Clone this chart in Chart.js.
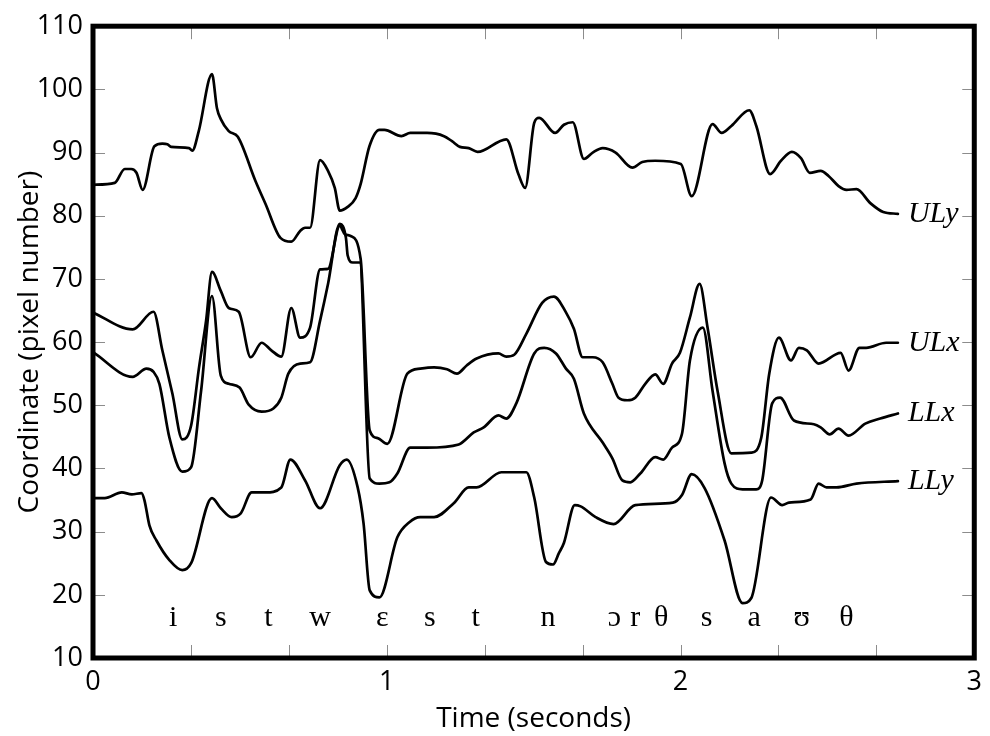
<!DOCTYPE html>
<html>
<head>
<meta charset="utf-8">
<script src="https://cdn.jsdelivr.net/npm/chart.js@4.4.1/dist/chart.umd.min.js"></script>
<style>
  html, body { margin: 0; padding: 0; background: #fff; }
  canvas { display: block; }
</style>
</head>
<body>
<canvas id="c" width="990" height="736"></canvas>
<script>
// Tongue/lip tracking traces: time (s) and coordinate (pixel number) for each articulator.
const ulyT = [0, 0.074, 0.108, 0.13, 0.148, 0.169, 0.209, 0.236, 0.253, 0.266, 0.327, 0.338, 0.36, 0.405, 0.422, 0.435, 0.462, 0.493, 0.553, 0.587, 0.638, 0.675, 0.705, 0.722, 0.739, 0.773, 0.8, 0.823, 0.84, 0.867, 0.894, 0.911, 0.941, 0.975, 0.992, 1.05, 1.08, 1.137, 1.195, 1.222, 1.249, 1.279, 1.309, 1.407, 1.448, 1.471, 1.502, 1.519, 1.573, 1.603, 1.633, 1.671, 1.701, 1.735, 1.779, 1.836, 1.87, 1.914, 2.001, 2.038, 2.109, 2.14, 2.173, 2.234, 2.258, 2.305, 2.342, 2.379, 2.41, 2.44, 2.477, 2.504, 2.538, 2.565, 2.599, 2.646, 2.69, 2.74];
const ulyV = [84.9, 85.2, 87.4, 87.4, 86.8, 84.1, 91.0, 91.4, 91.3, 90.9, 90.7, 90.3, 93.4, 102.4, 97.0, 95.3, 93.4, 92.5, 85.5, 81.9, 76.5, 75.9, 77.6, 78.1, 78.1, 88.8, 87.1, 84.4, 80.8, 81.4, 82.8, 85.0, 91.0, 93.6, 93.6, 92.6, 93.1, 93.1, 92.6, 91.8, 90.9, 90.7, 90.1, 92.1, 86.6, 84.4, 94.7, 95.5, 93.1, 94.4, 94.8, 89.0, 90.0, 90.7, 90.0, 87.6, 88.5, 88.7, 88.2, 83.1, 94.5, 93.1, 94.2, 96.7, 94.2, 86.6, 88.7, 90.1, 89.1, 86.8, 87.1, 86.3, 84.7, 84.1, 84.2, 82.0, 80.6, 80.3];

const ulxT = [0, 0.135, 0.206, 0.236, 0.27, 0.304, 0.334, 0.361, 0.385, 0.405, 0.435, 0.462, 0.496, 0.537, 0.574, 0.607, 0.641, 0.675, 0.705, 0.739, 0.773, 0.8, 0.84, 0.857, 0.877, 0.911, 0.942, 0.969, 1.002, 1.07, 1.114, 1.161, 1.205, 1.239, 1.272, 1.306, 1.38, 1.407, 1.434, 1.475, 1.529, 1.569, 1.61, 1.637, 1.667, 1.701, 1.735, 1.768, 1.789, 1.819, 1.846, 1.88, 1.914, 1.941, 1.971, 1.998, 2.032, 2.065, 2.092, 2.126, 2.173, 2.241, 2.275, 2.302, 2.335, 2.376, 2.403, 2.43, 2.47, 2.545, 2.572, 2.609, 2.632, 2.7, 2.74];
const ulxV = [64.7, 62.0, 64.8, 58.7, 51.9, 44.6, 46.8, 56.0, 63.4, 71.1, 68.1, 65.4, 64.8, 57.6, 59.9, 58.7, 57.7, 65.4, 60.7, 62.3, 71.5, 71.6, 78.4, 77.1, 76.8, 73.2, 46.0, 44.8, 43.9, 55.0, 55.8, 56.0, 55.7, 55.0, 56.3, 57.4, 58.2, 57.7, 58.0, 61.3, 66.2, 67.2, 64.7, 62.1, 57.6, 57.6, 56.8, 53.4, 51.2, 50.8, 51.2, 53.4, 54.9, 53.4, 56.6, 58.3, 63.9, 69.2, 62.3, 52.3, 42.4, 42.5, 44.9, 55.0, 60.7, 57.1, 59.1, 58.7, 56.6, 58.3, 55.5, 59.1, 59.1, 59.9, 59.9];

const llxT = [0, 0.135, 0.182, 0.206, 0.226, 0.26, 0.304, 0.334, 0.368, 0.405, 0.435, 0.462, 0.499, 0.53, 0.574, 0.614, 0.641, 0.665, 0.705, 0.739, 0.773, 0.8, 0.84, 0.861, 0.867, 0.884, 0.908, 0.942, 0.975, 1.009, 1.036, 1.08, 1.137, 1.245, 1.296, 1.33, 1.38, 1.407, 1.441, 1.502, 1.536, 1.576, 1.61, 1.637, 1.671, 1.735, 1.768, 1.802, 1.829, 1.863, 1.914, 1.941, 1.971, 2.005, 2.032, 2.076, 2.109, 2.15, 2.173, 2.211, 2.258, 2.278, 2.312, 2.339, 2.386, 2.454, 2.477, 2.508, 2.538, 2.572, 2.629, 2.68, 2.74];
const llxV = [58.4, 54.5, 55.8, 55.3, 53.4, 44.9, 39.5, 40.2, 52.3, 67.3, 54.7, 53.4, 52.8, 50.1, 49.0, 49.5, 51.2, 55.0, 56.6, 56.8, 63.4, 69.2, 78.7, 76.5, 73.7, 72.6, 72.6, 38.4, 37.6, 37.8, 39.2, 43.3, 43.3, 43.8, 45.7, 46.5, 48.4, 47.9, 50.3, 58.2, 59.1, 58.2, 55.8, 54.2, 48.7, 44.1, 41.6, 38.1, 37.8, 39.2, 41.8, 41.4, 43.3, 45.5, 57.1, 62.3, 52.3, 40.8, 37.6, 36.7, 36.7, 38.1, 50.3, 51.2, 47.6, 47.0, 46.5, 45.4, 46.3, 45.2, 47.1, 47.9, 48.7];

const llyT = [0, 0.04, 0.098, 0.132, 0.165, 0.175, 0.192, 0.216, 0.26, 0.304, 0.334, 0.405, 0.435, 0.472, 0.503, 0.54, 0.587, 0.641, 0.672, 0.722, 0.773, 0.84, 0.864, 0.901, 0.921, 0.942, 0.975, 1.036, 1.077, 1.114, 1.161, 1.228, 1.279, 1.306, 1.39, 1.475, 1.502, 1.542, 1.566, 1.586, 1.603, 1.64, 1.66, 1.711, 1.772, 1.846, 1.974, 2.005, 2.038, 2.082, 2.15, 2.211, 2.241, 2.308, 2.346, 2.369, 2.443, 2.47, 2.497, 2.531, 2.599, 2.74];
const llyV = [35.3, 35.3, 36.2, 35.9, 36.1, 35.0, 31.0, 28.6, 25.5, 23.9, 25.0, 35.3, 33.7, 32.3, 32.9, 36.2, 36.2, 37.0, 41.4, 38.1, 33.7, 40.5, 41.4, 37.0, 31.3, 20.7, 19.6, 29.1, 31.5, 32.3, 32.3, 34.5, 37.0, 37.0, 39.4, 39.4, 35.4, 25.2, 24.8, 26.6, 28.2, 34.2, 34.0, 32.3, 31.2, 34.2, 34.6, 35.8, 39.1, 36.9, 28.6, 18.7, 19.5, 35.4, 34.2, 34.6, 35.1, 37.6, 37.0, 37.0, 37.6, 38.0];

const seriesNames = ['ULy', 'ULx', 'LLx', 'LLy'];

// Phonetic transcription along the time axis
const phonemes = ['i', 's', 't', 'w', 'ɛ', 's', 't', 'n', 'ɔ', 'r', 'θ', 's', 'a', 'ʊ', 'θ'];
const phonemeTimes = [0.273, 0.435, 0.597, 0.773, 0.985, 1.147, 1.303, 1.549, 1.775, 1.846, 1.934, 2.089, 2.251, 2.413, 2.565];

const xMin = 0, xMax = 3, xStep = 1, xMinorStep = 1 / 3;
const yMin = 10, yMax = 110, yStep = 10;
const phonemeRow = 15; // baseline of the transcription row, in axis units

const pairs = (t, v) => t.map((x, i) => ({ x, y: v[i] }));
const traces = [pairs(ulyT, ulyV), pairs(ulxT, ulxV), pairs(llxT, llxV), pairs(llyT, llyV)];

const SANS = "'Open Sans', 'DejaVu Sans', sans-serif";
const SERIF = "'Liberation Serif', 'DejaVu Serif', serif";

const framePlugin = {
  id: 'frameAndLabels',
  afterDatasetsDraw(chart) {
    const { ctx, chartArea: a, scales: { x, y } } = chart;
    ctx.save();
    const seg = (x1, y1, x2, y2) => { ctx.beginPath(); ctx.moveTo(x1, y1); ctx.lineTo(x2, y2); ctx.stroke(); };

    // inner tick marks
    ctx.strokeStyle = '#8c8c8c';
    ctx.lineWidth = 1;
    for (let v = yMin; v <= yMax; v += yStep) {
      const py = Math.round(y.getPixelForValue(v)) + 0.5;
      seg(a.left, py, a.left + 12, py);
      seg(a.right - 12, py, a.right, py);
    }
    for (let k = 1; k * xMinorStep < xMax - 1e-6; k++) {
      const px = Math.round(x.getPixelForValue(k * xMinorStep)) + 0.5;
      seg(px, a.top, px, a.top + 13);
      seg(px, a.bottom - 13, px, a.bottom);
    }

    // heavy frame
    ctx.strokeStyle = '#000';
    ctx.lineWidth = 5;
    ctx.strokeRect(a.left, a.top, a.right - a.left, a.bottom - a.top);

    // transcription
    ctx.fillStyle = '#000';
    ctx.font = '30px ' + SERIF;
    ctx.textAlign = 'center';
    ctx.textBaseline = 'alphabetic';
    phonemes.forEach((p, i) => {
      ctx.fillText(p, x.getPixelForValue(phonemeTimes[i]), y.getPixelForValue(phonemeRow));
    });

    // trace names at the line ends
    ctx.font = 'italic 30px ' + SERIF;
    ctx.textAlign = 'left';
    ctx.textBaseline = 'middle';
    chart.data.datasets.forEach((ds, i) => {
      const pts = chart.getDatasetMeta(i).data;
      const last = pts[pts.length - 1];
      ctx.fillText(ds.label, last.x + 10, last.y);
    });
    ctx.restore();
  }
};

new Chart(document.getElementById('c'), {
  type: 'line',
  data: {
    datasets: traces.map((d, i) => ({
      label: seriesNames[i],
      data: d,
      borderColor: '#000',
      borderWidth: 2.7,
      pointRadius: 0,
      fill: false,
      cubicInterpolationMode: 'monotone',
      borderJoinStyle: 'round',
      borderCapStyle: 'round'
    }))
  },
  options: {
    responsive: false,
    animation: false,
    layout: { padding: { top: 25, right: 8, bottom: 0, left: 0 } },
    plugins: { legend: { display: false }, tooltip: { enabled: false } },
    scales: {
      x: {
        type: 'linear',
        min: xMin, max: xMax,
        grid: { display: false, drawTicks: false },
        border: { display: false },
        ticks: { stepSize: xStep, color: '#000', padding: 8, font: { family: SANS, size: 27 } },
        title: { display: true, text: 'Time (seconds)', color: '#000', padding: { top: 0, bottom: 0 }, font: { family: SANS, size: 28 } },
        afterFit: s => { s.height = 78; }
      },
      y: {
        min: yMin, max: yMax,
        grid: { display: false, drawTicks: false },
        border: { display: false },
        ticks: { stepSize: yStep, color: '#000', padding: 10, font: { family: SANS, size: 27 } },
        title: { display: true, text: 'Coordinate (pixel number)', color: '#000', padding: { top: 13, bottom: 0 }, font: { family: SANS, size: 28 } },
        afterFit: s => { s.width = 93; }
      }
    }
  },
  plugins: [framePlugin]
});
</script>
</body>
</html>
